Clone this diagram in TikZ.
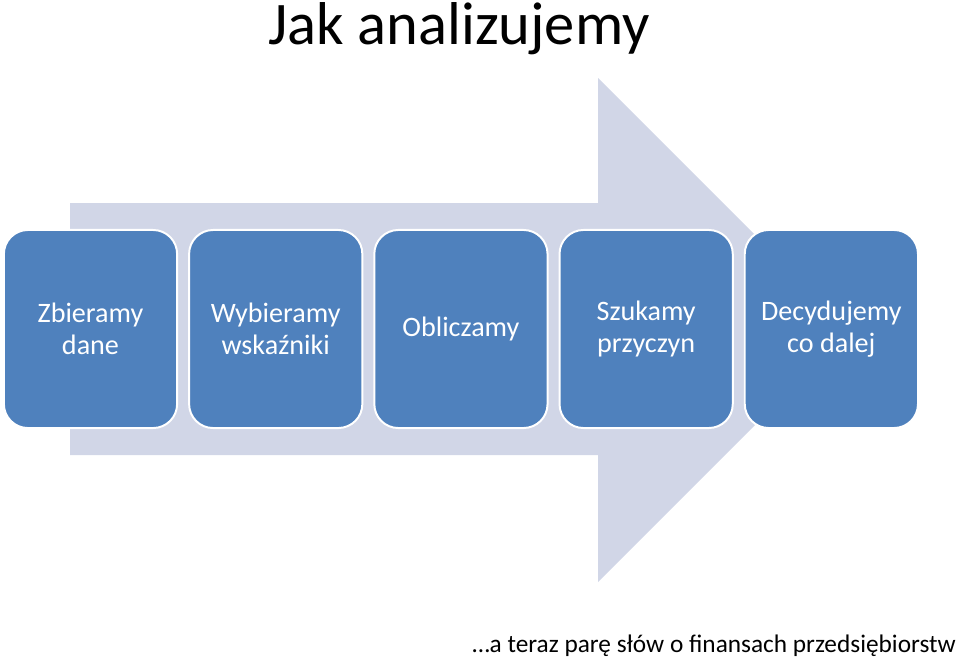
\documentclass[tikz,border=0pt]{standalone}
\usepackage{fontspec}
\setmainfont{Carlito}
\usepackage{tikz}
\usetikzlibrary{positioning}

\definecolor{stepblue}{HTML}{4F81BD}
\definecolor{arrowgray}{HTML}{D1D6E7}

\tikzset{
  stepbox/.style={draw=white, line width=1.4pt, fill=stepblue, rounded corners=.6cm,
    minimum width=4.33cm, minimum height=4.95cm, align=center, text=white,
    font=\fontsize{20}{22.7}\selectfont},
}

\begin{document}
\begin{tikzpicture}[x=.025cm, y=-.025cm]

    \useasboundingbox (0,0) rectangle (960,658);

    % Title
    \node[anchor=base, inner sep=0pt] (title) at (459,44) {\fontsize{43}{50}\selectfont Jak analizujemy};

    % Big arrow in the background
    \fill[arrowgray] (70,203) -- (598,203) -- (598,78) -- (850,330)
        -- (598,582) -- (598,455) -- (70,455) -- cycle;

    % Steps
    \node[stepbox] (s1) at (90.5,329) {Zbieramy\\dane};
    \foreach \prev/\name/\txt in {s1/s2/{Wybieramy\\wskaźniki}, s2/s3/{Obliczamy},
        s3/s4/{Szukamy\\przyczyn}, s4/s5/{Decydujemy\\co dalej}} {
      \node[stepbox, right=.25cm of \prev] (\name) {\txt};
    }

    % Footer
    \node[anchor=base east, inner sep=0pt] (footer) at (956,652)
        {\fontsize{18}{22}\selectfont …a teraz parę słów o finansach przedsiębiorstw};

\end{tikzpicture}
\end{document}
